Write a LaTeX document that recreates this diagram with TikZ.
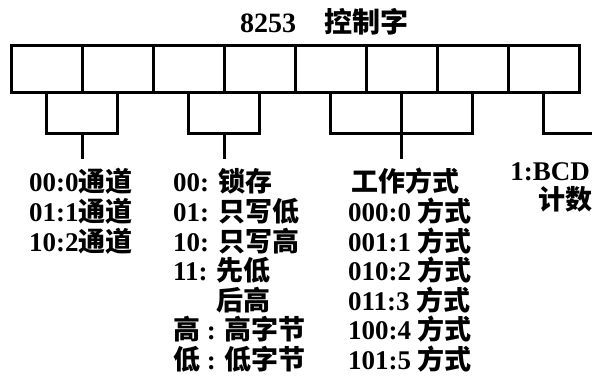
\documentclass[tikz,border=0pt]{standalone}
\usepackage{fontspec}
\setmainfont{Liberation Serif}
\newfontfamily\cjk{Noto Sans CJK SC}
\usetikzlibrary{calc}
\newcommand\zh[1]{{\cjk\bfseries #1}}
\tikzset{
  cell/.style={draw, line width=3pt, minimum width=71pt, minimum height=47pt, inner sep=0pt, outer sep=0pt},
  wire/.style={line width=3pt},
  lbl/.style={anchor=base west, inner sep=0pt, font=\fontsize{27}{30}\selectfont\bfseries},
}
\begin{document}
\begin{tikzpicture}[x=1pt,y=-1pt]
\useasboundingbox (0,0) rectangle (592,385);
% title
\node[lbl, font=\fontsize{28}{30}\selectfont\bfseries] (title) at (240,33) {8253\quad\zh{控制字}};
% register cells
\foreach \i in {1,...,8} \node[cell] (c\i) at ({46.5+71*(\i-1)},69.5) {};
% bracket 1
\draw[wire] (c1.south) -- ++(0,41) -| (c2.south);
\coordinate (m1) at ($(c1.south)!0.5!(c2.south)+(0,41)$);
\coordinate (n1) at ($(m1)+(0,25)$);
\draw[wire] (m1) -- (n1);
% bracket 2
\draw[wire] (c3.south) -- ++(0,41) -| (c4.south);
\coordinate (m2) at ($(c3.south)!0.5!(c4.south)+(0,41)$);
\coordinate (n2) at ($(m2)+(0,25)$);
\draw[wire] (m2) -- (n2);
% bracket 3
\draw[wire] (c5.south) -- ++(0,41) -| (c7.south);
\coordinate (n3) at ($(c6.south)+(0,66)$);
\draw[wire] (c6.south) -- (n3);
% bracket 4
\coordinate (edge) at (592,134);
\draw[wire] (c8.south) |- (edge);
% column 1
\node[lbl] (a1) at (29,192) {00:0\zh{通道}};
\node[lbl] (a2) at (29,221.5) {01:1\zh{通道}};
\node[lbl] (a3) at (29,251) {10:2\zh{通道}};
% column 2
\node[lbl] (b1) at (173,192) {00: \zh{锁存}};
\node[lbl] (b2) at (173,221.5) {01: \zh{只写低}};
\node[lbl] (b3) at (173,251) {10: \zh{只写高}};
\node[lbl] (b4) at (173,280.5) {11: \zh{先低}};
\node[lbl] (b5) at (173,310) {\phantom{11: }\zh{后高}};
\node[lbl] (b6) at (173,339.5) {\zh{高} : \zh{高字节}};
\node[lbl] (b7) at (173,369) {\zh{低} : \zh{低字节}};
% column 3
\node[lbl] (d0) at (351,192) {\zh{工作方式}};
\node[lbl] (d1) at (348,221.5) {000:0 \zh{方式}};
\node[lbl] (d2) at (348,251) {001:1 \zh{方式}};
\node[lbl] (d3) at (348,280.5) {010:2 \zh{方式}};
\node[lbl] (d4) at (348,310) {011:3 \zh{方式}};
\node[lbl] (d5) at (348,339.5) {100:4 \zh{方式}};
\node[lbl] (d6) at (348,369) {101:5 \zh{方式}};
% column 4
\node[lbl, anchor=base east] (e1) at (590,181) {1:BCD};
\node[lbl, anchor=base] (e2) at (565,210) {\zh{计数}};
\end{tikzpicture}
\end{document}
